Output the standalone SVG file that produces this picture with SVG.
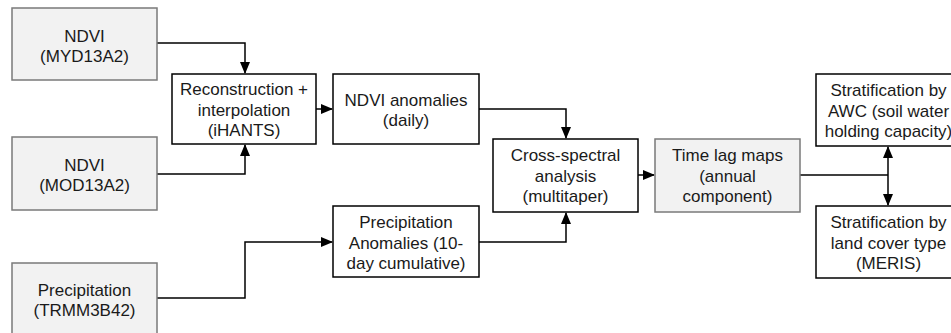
<svg xmlns="http://www.w3.org/2000/svg" width="951" height="333" viewBox="0 0 951 333">
<style>
.box{fill:#fff;stroke:#000;stroke-width:1.5}
.src{fill:#f2f2f2;stroke:#7a7a7a;stroke-width:1.5}
text{font-family:"Liberation Sans",Arial,sans-serif;font-size:17px;fill:#1a1a1a;text-anchor:middle}
.c{fill:none;stroke:#000;stroke-width:1.5}
</style>
<defs>
<marker id="ah" markerUnits="userSpaceOnUse" markerWidth="12" markerHeight="10" refX="11" refY="5" orient="auto">
<path d="M0,0 L12,5 L0,10 Z" fill="#000"/>
</marker>
</defs>
<g id="connectors">
<path class="c" d="M157,43 H245 V73" marker-end="url(#ah)"/>
<path class="c" d="M157,174 H245 V145" marker-end="url(#ah)"/>
<path class="c" d="M157,298 H245 V242 H332" marker-end="url(#ah)"/>
<path class="c" d="M316,109 H332" marker-end="url(#ah)"/>
<path class="c" d="M479,109 H566 V138" marker-end="url(#ah)"/>
<path class="c" d="M479,242 H566 V213" marker-end="url(#ah)"/>
<path class="c" d="M638,175 H654" marker-end="url(#ah)"/>
<path class="c" d="M800,175 H888"/>
<path class="c" d="M888,175 V147" marker-end="url(#ah)"/>
<path class="c" d="M888,175 V205" marker-end="url(#ah)"/>
</g>
<g id="ndvi_myd">
<rect class="src" x="12" y="8" width="145" height="72"/>
<text x="84.5" y="41.5">NDVI</text>
<text x="84.5" y="61.5">(MYD13A2)</text>
</g>
<g id="ndvi_mod">
<rect class="src" x="12" y="137" width="145" height="73"/>
<text x="84.5" y="171">NDVI</text>
<text x="84.5" y="191">(MOD13A2)</text>
</g>
<g id="precip">
<rect class="src" x="12" y="263" width="145" height="74"/>
<text x="84.5" y="295.5">Precipitation</text>
<text x="84.5" y="315.5">(TRMM3B42)</text>
</g>
<g id="reconstruction">
<rect class="box" x="172" y="74" width="144" height="70"/>
<text x="244" y="95">Reconstruction +</text>
<text x="244" y="115.5">interpolation</text>
<text x="244" y="136">(iHANTS)</text>
</g>
<g id="ndvi_anom">
<rect class="box" x="333" y="74" width="146" height="70"/>
<text x="406" y="105.5">NDVI anomalies</text>
<text x="406" y="126">(daily)</text>
</g>
<g id="precip_anom">
<rect class="box" x="333" y="206" width="146" height="71"/>
<text x="406" y="228">Precipitation</text>
<text x="406" y="248.5">Anomalies (10-</text>
<text x="406" y="269">day cumulative)</text>
</g>
<g id="cross_spectral">
<rect class="box" x="493" y="139" width="145" height="73"/>
<text x="565.5" y="161">Cross-spectral</text>
<text x="565.5" y="181.5">analysis</text>
<text x="565.5" y="202">(multitaper)</text>
</g>
<g id="time_lag">
<rect class="src" x="655" y="139" width="145" height="73"/>
<text x="727.5" y="161">Time lag maps</text>
<text x="727.5" y="181.5">(annual</text>
<text x="727.5" y="202">component)</text>
</g>
<g id="strat_awc">
<rect class="box" x="816" y="74" width="145" height="72"/>
<text x="888.5" y="96">Stratification by</text>
<text x="888.5" y="116.5">AWC (soil water</text>
<text x="888.5" y="137">holding capacity)</text>
</g>
<g id="strat_landcover">
<rect class="box" x="816" y="206" width="145" height="72"/>
<text x="888.5" y="228">Stratification by</text>
<text x="888.5" y="248.5">land cover type</text>
<text x="888.5" y="269">(MERIS)</text>
</g>
</svg>
